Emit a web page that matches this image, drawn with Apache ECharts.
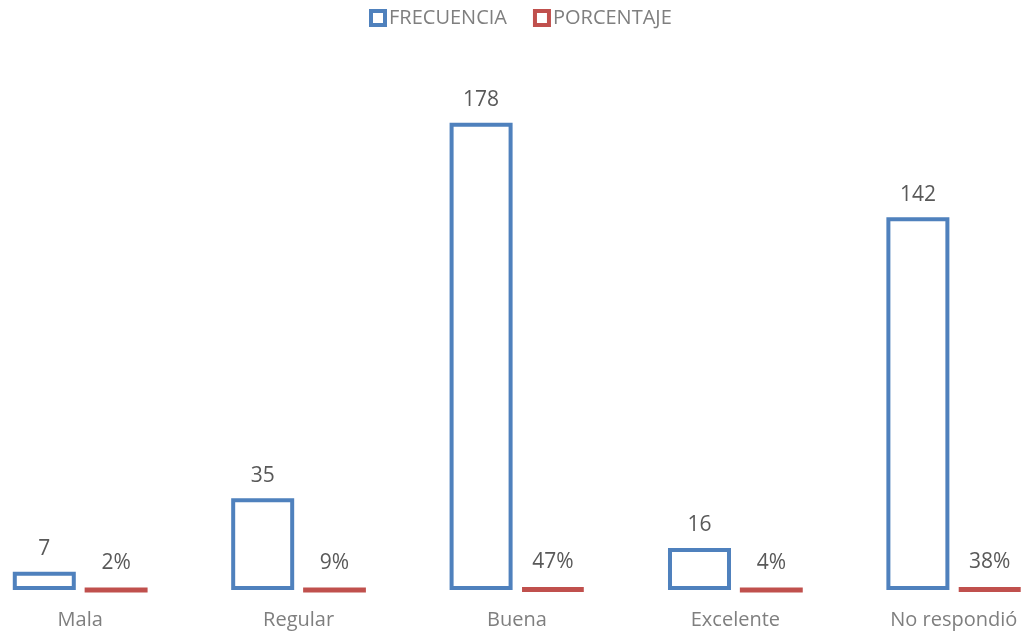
<!DOCTYPE html>
<html>
<head>
<meta charset="utf-8">
<script src="https://cdn.jsdelivr.net/npm/echarts@6/dist/echarts.min.js"></script>
<style>html,body{margin:0;padding:0;background:#fff}#c{width:1028px;height:634px}</style>
</head>
<body>
<div id="c"></div>
<script>
var categories = ['Mala', 'Regular', 'Buena', 'Excelente', 'No respondió'];
var frecuencia = [7, 35, 178, 16, 142];
var porcentaje = [0.02, 0.09, 0.47, 0.04, 0.38];

var chart = echarts.init(document.getElementById('c'));
var FONT = '"Open Sans", sans-serif';
chart.setOption({
  animation: false,
  backgroundColor: '#ffffff',
  legend: {
    top: 3,
    left: 364,
    itemWidth: 14,
    itemHeight: 14,
    itemGap: 26,
    icon: 'rect',
    itemStyle: { color: '#ffffff', borderWidth: 4 },
    textStyle: { color: '#7f7f7f', fontSize: 20, fontFamily: FONT, padding: [0, 0, 0, -1] },
    data: ['FRECUENCIA', 'PORCENTAJE']
  },
  grid: { left: -29, right: -35, top: 65, bottom: 44, outerBoundsMode: 'none', containLabel: false },
  xAxis: {
    type: 'category',
    data: categories,
    axisLine: { show: false },
    axisTick: { show: false },
    axisLabel: { color: '#7f7f7f', fontSize: 20, fontFamily: FONT, margin: 20 }
  },
  yAxis: {
    type: 'value',
    min: 0,
    max: 200,
    show: false,
    splitLine: { show: false }
  },
  series: [
    {
      name: 'FRECUENCIA',
      type: 'bar',
      data: frecuencia,
      barWidth: 63,
      barGap: '14%',
      itemStyle: { color: '#ffffff', borderColor: '#4F81BD', borderWidth: 4 },
      label: { show: true, position: 'top', distance: 12, color: '#595959', fontSize: 21, fontFamily: FONT }
    },
    {
      name: 'PORCENTAJE',
      type: 'bar',
      data: porcentaje,
      barWidth: 63,
      itemStyle: { color: '#C0504D', borderColor: '#C0504D', borderWidth: 5 },
      label: {
        show: true, position: 'top', distance: 14, color: '#595959', fontSize: 21, fontFamily: FONT,
        formatter: function (p) { return Math.round(p.value * 100) + '%'; }
      }
    }
  ]
});
</script>
</body>
</html>
